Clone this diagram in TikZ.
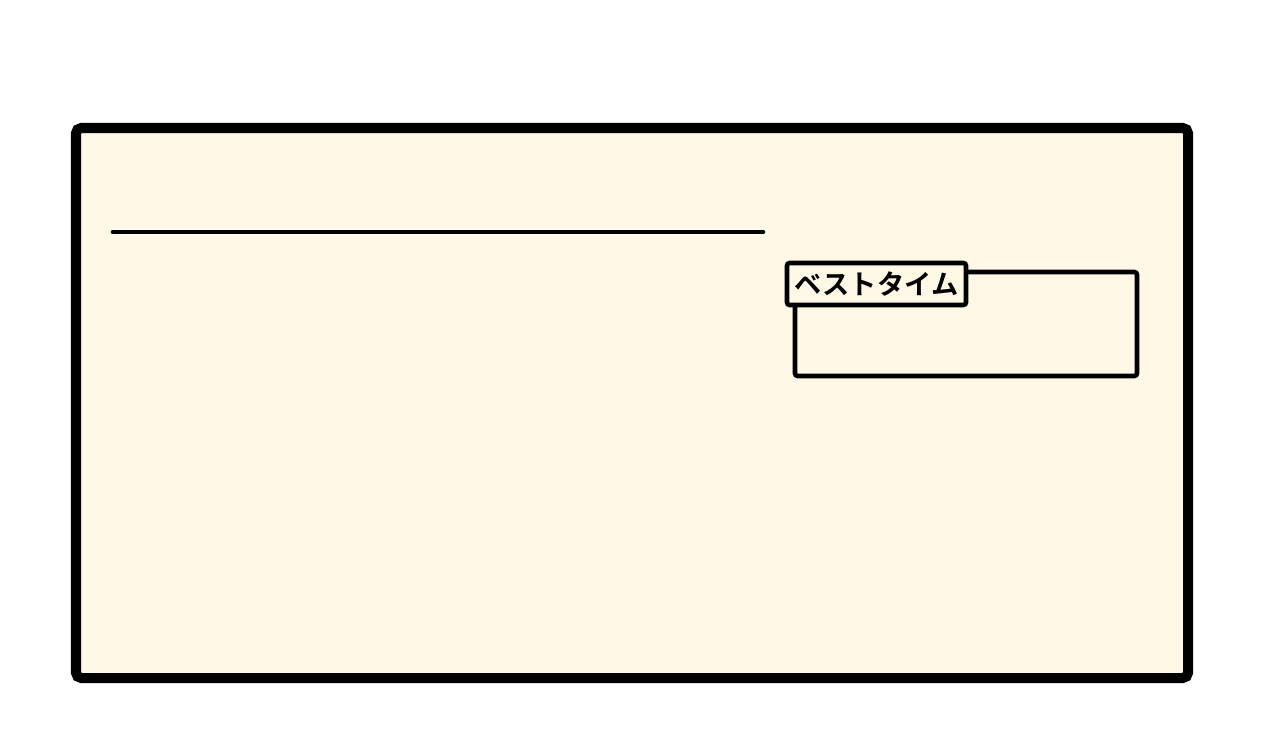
\documentclass[tikz,border=0pt]{standalone}
\usepackage{fontspec}
\usepackage{tikz}
\newfontfamily\jpfont{Noto Sans CJK JP}[BoldFont={* Bold}]
\definecolor{cardfill}{HTML}{FFF8E7}

\begin{document}
\begin{tikzpicture}[x=0.02cm,y=-0.02cm]
   \useasboundingbox (0,0) rectangle (1280,730);
   \draw[line width=5.7pt, fill=cardfill, rounded corners=3pt] (76,128) rectangle (1188,678);
   \coordinate(L1) at (113,232);
   \coordinate(L2) at (763,232);
   \draw[line width=2.6pt, line cap=round] (L1) -- (L2);

   \draw[line width=2.6pt, rounded corners=1.5pt] (795,272) rectangle (1137,376);
   \node(BT)[draw, line width=2.6pt, fill=cardfill, rounded corners=1.5pt,
     minimum width=179*0.02cm, minimum height=42*0.02cm, inner sep=0pt,
     font=\jpfont\bfseries\fontsize{15.5pt}{16pt}\selectfont] at (876.5,284) {ベストタイム};
\end{tikzpicture}
\end{document}
